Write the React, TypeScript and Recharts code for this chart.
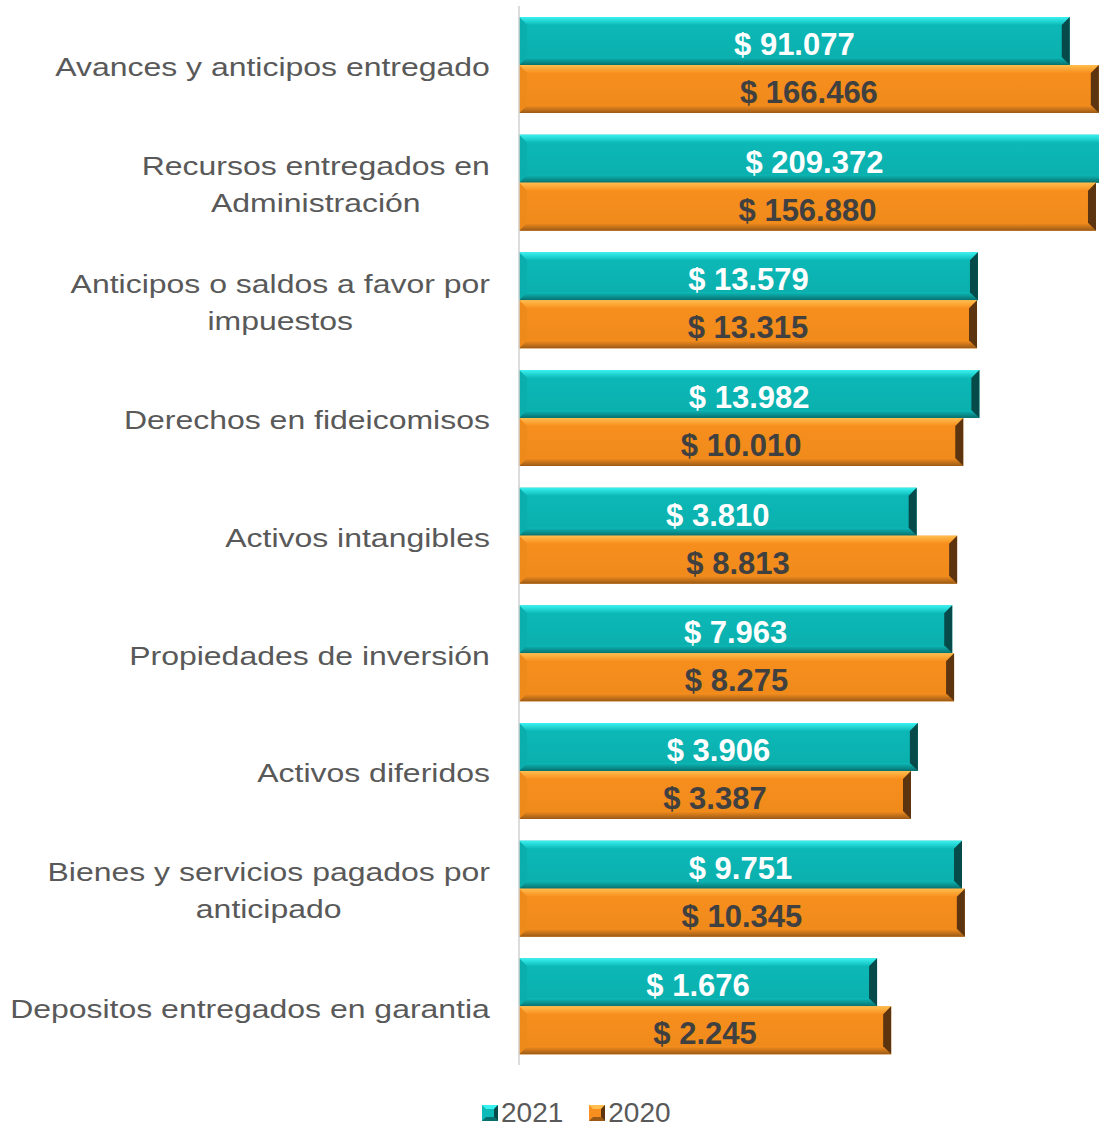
import { Bar, BarChart, LabelList, XAxis, YAxis } from 'recharts';

const categories = [
  'Avances y anticipos entregado',
  'Recursos entregados en\nAdministración',
  'Anticipos o saldos a favor por\nimpuestos',
  'Derechos en fideicomisos',
  'Activos intangibles',
  'Propiedades de inversión',
  'Activos diferidos',
  'Bienes y servicios pagados por\nanticipado',
  'Depositos entregados en garantia',
];

const values2021 = [91077, 209372, 13579, 13982, 3810, 7963, 3906, 9751, 1676];
const values2020 = [166466, 156880, 13315, 10010, 8813, 8275, 3387, 10345, 2245];

const seriesNames = ['2021', '2020'];

const data = categories.map((name, i) => ({
  name,
  y2021: values2021[i],
  y2020: values2020[i],
}));

const DOMAIN: [number, number] = [1, 167000];

const palette = {
  y2021: { face: '#0CBAB8', light: '#3AF2F0', mid: '#0AAEAC', dark: '#07706E', edge: '#064B4A', text: '#FFFFFF' },
  y2020: { face: '#F88F1E', light: '#FFBE4E', mid: '#EE8A1A', dark: '#9A5A16', edge: '#5C3510', text: '#404040' },
};

const TICK_SIZE = 26;
const TICK_FONT = `${TICK_SIZE}px "Liberation Sans", Arial, sans-serif`;
const TICK_STRETCH = 1.23;

let ctx: CanvasRenderingContext2D | null = null;
function measure(text: string) {
  if (!ctx) ctx = document.createElement('canvas').getContext('2d');
  if (!ctx) return text.length * TICK_SIZE * 0.5;
  ctx.font = TICK_FONT;
  return ctx.measureText(text).width;
}

const money = (v: number) => '$ ' + String(v).replace(/\B(?=(\d{3})+(?!\d))/g, '.');

function CategoryTick({ x, y, payload }: any) {
  const lines = String(payload.value).split('\n');
  const w = Math.max(...lines.map(measure));
  const lh = 37;
  const top = -((lines.length - 1) * lh) / 2 + 2;
  return (
    <g transform={`translate(${x - 29},${y}) scale(${TICK_STRETCH},1)`}>
      {lines.map((line, i) => (
        <text
          key={i}
          x={-w / 2}
          y={top + i * lh}
          dy="0.36em"
          textAnchor="middle"
          fill="#595959"
          fontSize={TICK_SIZE}
          fontFamily='"Liberation Sans", Arial, sans-serif'
        >
          {line}
        </text>
      ))}
    </g>
  );
}

function bevelShape(key: 'y2021' | 'y2020') {
  const c = palette[key];
  return (props: any) => {
    const { x, y, width: w, height: h, payload } = props;
    if (!w || !h) return <g />;
    const b = 8;
    // bars past the axis max are cut off, so no right bevel
    const cut = payload && payload[key] > DOMAIN[1];
    return (
      <g>
        <rect x={x} y={y} width={w} height={h} fill={`url(#face-${key})`} />
        <polygon
          points={`${x},${y} ${x + w},${y} ${cut ? x + w : x + w - b},${y + b} ${x + b},${y + b}`}
          fill={`url(#top-${key})`}
        />
        <polygon
          points={`${x},${y + h} ${x + w},${y + h} ${cut ? x + w : x + w - b},${y + h - b} ${x + b},${y + h - b}`}
          fill={`url(#bot-${key})`}
        />
        <polygon points={`${x},${y} ${x + b},${y + b} ${x + b},${y + h - b} ${x},${y + h}`} fill={c.mid} />
        {!cut && (
          <polygon
            points={`${x + w},${y} ${x + w - b},${y + b} ${x + w - b},${y + h - b} ${x + w},${y + h}`}
            fill={c.edge}
          />
        )}
      </g>
    );
  };
}

function Gradients() {
  return (
    <defs>
      {(Object.keys(palette) as Array<'y2021' | 'y2020'>).map((k) => {
        const c = palette[k];
        return (
          <g key={k}>
            <linearGradient id={`face-${k}`} x1="0" y1="0" x2="0" y2="1">
              <stop offset="0%" stopColor={c.face} />
              <stop offset="100%" stopColor={c.mid} />
            </linearGradient>
            <linearGradient id={`top-${k}`} x1="0" y1="0" x2="0" y2="1">
              <stop offset="0%" stopColor={c.light} />
              <stop offset="100%" stopColor={c.face} />
            </linearGradient>
            <linearGradient id={`bot-${k}`} x1="0" y1="0" x2="0" y2="1">
              <stop offset="0%" stopColor={c.face} />
              <stop offset="100%" stopColor={c.dark} />
            </linearGradient>
          </g>
        );
      })}
    </defs>
  );
}

function LegendSwatch({ k }: { k: 'y2021' | 'y2020' }) {
  const c = palette[k];
  return (
    <svg width={16} height={16} style={{ marginRight: 3 }}>
      <rect x={0} y={0} width={16} height={16} fill={c.face} />
      <polygon points="0,0 16,0 12,4 4,4" fill={c.light} />
      <polygon points="0,16 16,16 12,12 4,12" fill={c.dark} />
      <polygon points="16,0 12,4 12,12 16,16" fill={c.edge} />
    </svg>
  );
}

export default function App() {
  const keys: Array<'y2021' | 'y2020'> = ['y2021', 'y2020'];
  return (
    <div style={{ position: 'absolute', left: 0, top: 0, width: 1099, height: 1130, background: '#fff' }}>
      <BarChart
        layout="vertical"
        width={1099}
        height={1130}
        data={data}
        margin={{ top: 6, right: 0, bottom: 65, left: 0 }}
        barGap={0}
        barSize={48}
      >
        <Gradients />
        <XAxis type="number" scale="log" domain={DOMAIN} allowDataOverflow hide />
        <YAxis
          type="category"
          dataKey="name"
          width={519}
          tickLine={false}
          tickSize={0}
          tickMargin={0}
          axisLine={{ stroke: '#D0D0D0', strokeWidth: 1.5 }}
          tick={<CategoryTick />}
          interval={0}
        />
        {keys.map((k, i) => (
          <Bar key={k} dataKey={k} name={seriesNames[i]} isAnimationActive={false} shape={bevelShape(k)}>
            <LabelList
              dataKey={k}
              position="center"
              formatter={(v: any) => money(Number(v))}
              fill={palette[k].text}
              fontSize={31}
              fontWeight="bold"
              fontFamily='"Liberation Sans", Arial, sans-serif'
              dy={3}
            />
          </Bar>
        ))}
      </BarChart>
      <div
        style={{
          position: 'absolute',
          left: 482,
          top: 1097,
          display: 'flex',
          alignItems: 'center',
          fontFamily: '"Liberation Sans", Arial, sans-serif',
          fontSize: 28,
          color: '#595959',
        }}
      >
        {keys.map((k, i) => (
          <div key={k} style={{ display: 'flex', alignItems: 'center', marginRight: 26 }}>
            <LegendSwatch k={k} />
            <span>{seriesNames[i]}</span>
          </div>
        ))}
      </div>
    </div>
  );
}
